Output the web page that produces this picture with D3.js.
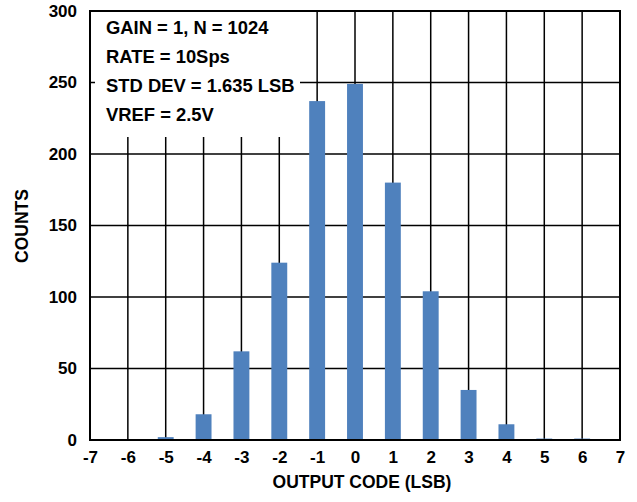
<!DOCTYPE html>
<html>
<head>
<meta charset="utf-8">
<script src="https://cdn.jsdelivr.net/npm/d3@7"></script>
<style>
  body { margin: 0; background: #fff; }
  svg text { font-family: "Liberation Sans", Arial, sans-serif; font-weight: bold; fill: #000; }
</style>
</head>
<body>
<svg id="chart" width="637" height="502"></svg>
<script>
// output code histogram
const codes = [-5, -4, -3, -2, -1, 0, 1, 2, 3, 4, 5, 6];
const counts = [2, 18, 62, 124, 237, 249, 180, 104, 35, 11, 1, 1];
const xTicks = d3.range(-7, 8);
const yTicks = [0, 50, 100, 150, 200, 250, 300];
const notes = ["GAIN = 1, N = 1024", "RATE = 10Sps", "STD DEV = 1.635 LSB", "VREF = 2.5V"];

const svg = d3.select("#chart"),
  margin = { top: 11, right: 17, bottom: 62, left: 90 },
  width = +svg.attr("width") - margin.left - margin.right,
  height = +svg.attr("height") - margin.top - margin.bottom;

const x = d3.scaleLinear().domain([-7, 7]).range([0, width]),
  y = d3.scaleLinear().domain([0, 300]).range([height, 0]);
const barW = x(0.42) - x(0);

const g = svg.append("g").attr("transform", `translate(${margin.left},${margin.top})`);

// grid
g.append("g")
  .selectAll("line.v")
  .data(xTicks)
  .enter()
  .append("line")
  .attr("x1", d => x(d)).attr("x2", d => x(d))
  .attr("y1", 0).attr("y2", height)
  .attr("stroke", "#000").attr("stroke-width", 1.5);

g.append("g")
  .selectAll("line.h")
  .data(yTicks)
  .enter()
  .append("line")
  .attr("x1", 0).attr("x2", width)
  .attr("y1", d => y(d)).attr("y2", d => y(d))
  .attr("stroke", "#000").attr("stroke-width", 1.5);

// note box hides the grid behind it
g.append("rect")
  .attr("x", 5).attr("y", 0)
  .attr("width", 205).attr("height", 126)
  .attr("fill", "#fff");

g.append("g")
  .selectAll("text")
  .data(notes)
  .enter()
  .append("text")
  .attr("x", 16)
  .attr("y", (d, i) => 23 + i * 29)
  .style("font-size", "18.4px")
  .text(d => d);

// bars
g.selectAll(".bar")
  .data(codes)
  .enter()
  .append("rect")
  .attr("class", "bar")
  .attr("x", d => x(d) - barW / 2)
  .attr("y", (d, i) => y(counts[i]))
  .attr("width", barW)
  .attr("height", (d, i) => height - y(counts[i]))
  .attr("fill", "#4F81BD");

// frame
g.append("rect")
  .attr("width", width).attr("height", height)
  .attr("fill", "none").attr("stroke", "#000").attr("stroke-width", 2);

// axes
g.append("g")
  .call(d3.axisLeft(y).tickValues(yTicks).tickSize(0).tickPadding(13))
  .call(a => a.select(".domain").remove())
  .selectAll("text")
  .style("font-size", "17px");

g.append("g")
  .attr("transform", `translate(0,${height})`)
  .call(d3.axisBottom(x).tickValues(xTicks).tickSize(0).tickPadding(11).tickFormat(d => String(d)))
  .call(a => a.select(".domain").remove())
  .selectAll("text")
  .style("font-size", "17px");

svg.append("text")
  .attr("transform", `translate(28,226) rotate(-90)`)
  .attr("text-anchor", "middle")
  .style("font-size", "17.5px")
  .text("COUNTS");

svg.append("text")
  .attr("x", 362)
  .attr("y", 488)
  .attr("text-anchor", "middle")
  .style("font-size", "17.5px")
  .text("OUTPUT CODE (LSB)");
</script>
</body>
</html>
